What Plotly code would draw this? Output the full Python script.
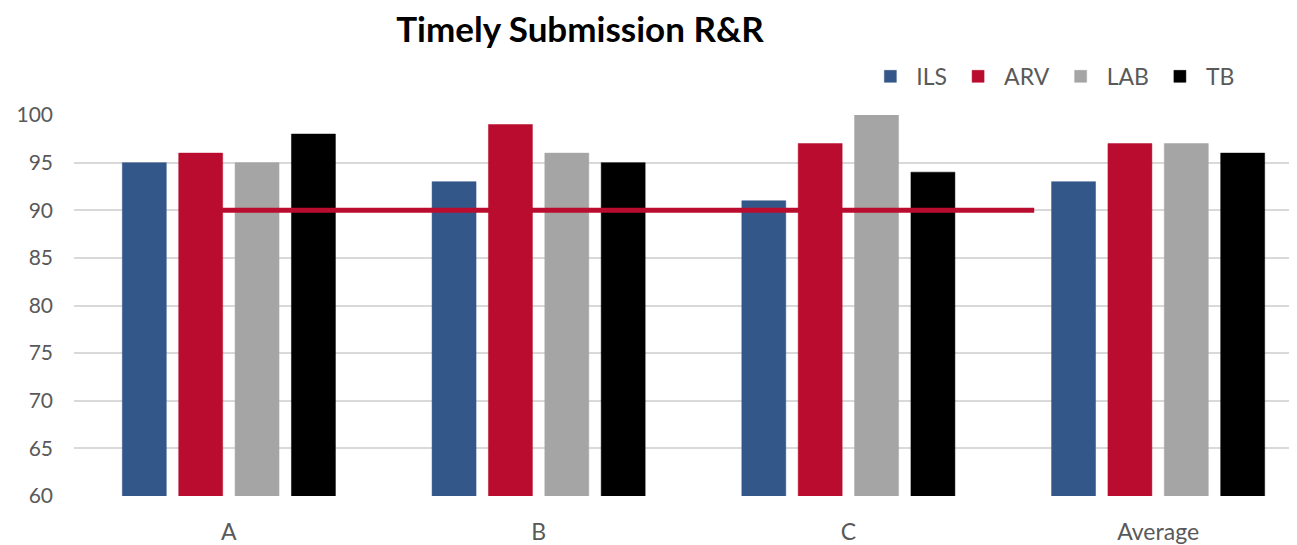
import plotly.graph_objects as go

categories = ["A", "B", "C", "Average"]
series_names = ["ILS", "ARV", "LAB", "TB"]
ils = [95, 93, 91, 93]
arv = [96, 99, 97, 97]
lab = [95, 96, 100, 97]
tb = [98, 95, 94, 96]
target = 90
y_ticks = [60, 65, 70, 75, 80, 85, 90, 95, 100]

colors = ["#34578A", "#BA0C2F", "#A5A5A5", "#000000"]
values = [ils, arv, lab, tb]

FONT = "Lato, 'Open Sans', sans-serif"
W, H = 1297, 545
OFF = 8  # page body margin
L, T, B, R = 73 - OFF, 115 - OFF, H - (500 - OFF), 8
PW = W - L - R
PH = H - T - B

fig = go.Figure()
for name, vals, col in zip(series_names, values, colors):
    fig.add_trace(go.Bar(
        x=list(range(len(categories))), y=vals, name=name,
        marker=dict(color=col, line=dict(color=col, width=0.5)),
    ))

# target line
fig.add_shape(type="line", xref="x", yref="y",
              x0=-0.135, x1=2.6, y0=target, y1=target,
              line=dict(color="#BA0C2F", width=5), layer="above")

fig.update_layout(
    width=W, height=H,
    margin=dict(l=L, r=R, t=T, b=B),
    paper_bgcolor="white", plot_bgcolor="white",
    barmode="group", bargap=0.272, bargroupgap=0.22,
    font=dict(family=FONT, color="#595959"),
    title=dict(text="<b>Timely Submission R&R</b>", x=(580 - OFF) / W, xref="container", xanchor="center",
               y=1 - (30 - OFF) / H, yref="container", yanchor="middle",
               font=dict(family=FONT, size=35, color="#000000")),
    legend=dict(orientation="h", x=(864 - 73) / PW, xanchor="left", y=(500 - 76) / PH, yanchor="middle",
                font=dict(size=23, color="#595959"), bgcolor="rgba(0,0,0,0)",
                traceorder="normal", itemwidth=42),
    showlegend=True,
)
fig.update_xaxes(
    tickvals=list(range(len(categories))), ticktext=categories,
    range=[-0.5, -0.5 + PW / 310],
    showgrid=False, zeroline=False, showline=False,
    tickfont=dict(size=23, color="#595959"), ticklabelstandoff=20,
)
fig.update_yaxes(
    range=[60, 100], tickvals=y_ticks,
    showgrid=True, gridcolor="#D9D9D9", gridwidth=1.5, zeroline=False,
    tickfont=dict(size=21, color="#595959"), ticklabelstandoff=20,
)

fig.write_html("out.html")
